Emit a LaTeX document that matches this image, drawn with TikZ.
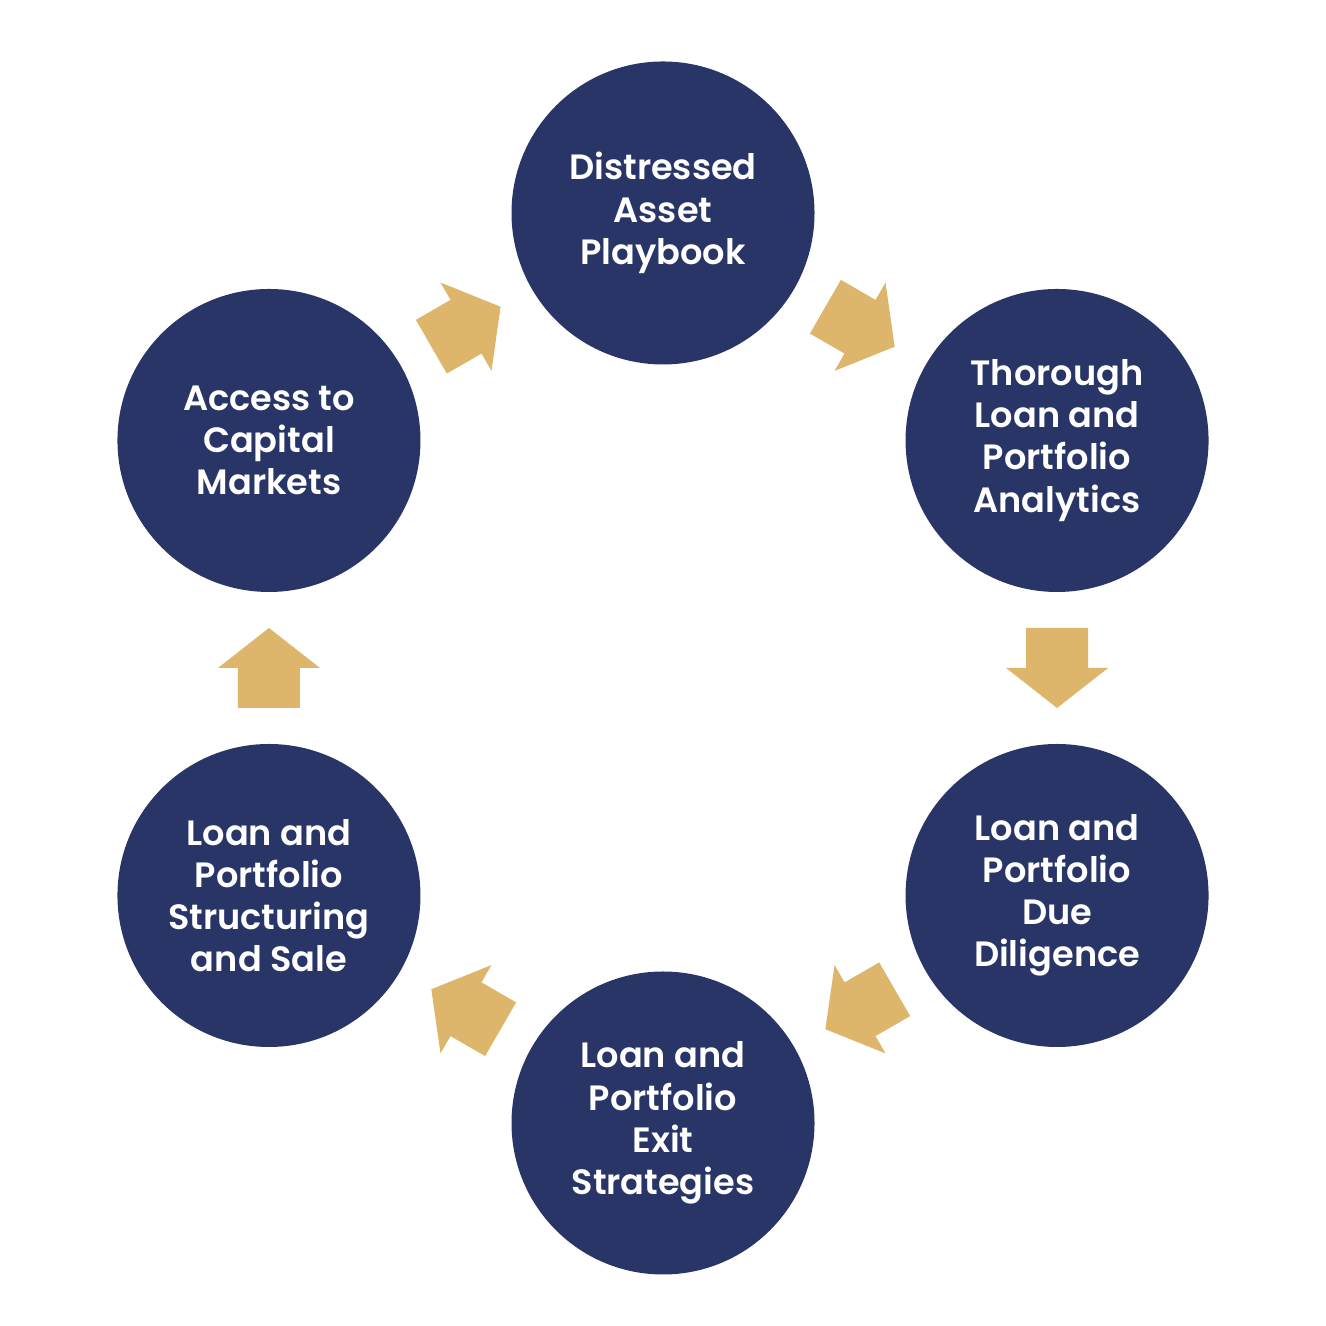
\documentclass[tikz,border=0pt]{standalone}
\usepackage{fontspec}
\newfontfamily\circfont{Poppins}[UprightFont=* SemiBold]
\usepackage{tikz}
\usetikzlibrary{calc}
\definecolor{cnavy}{HTML}{283566}
\definecolor{cgold}{HTML}{DDB66B}
\tikzset{
  stage/.style={circle, fill=cnavy, minimum size=3.03cm, inner sep=0pt,
    text=white, align=center, font=\circfont\fontsize{10}{12}\selectfont},
  blockarrow/.pic={
    \fill[cgold] (-0.4,-0.31) -- (0,-0.31) -- (0,-0.51) -- (0.4,0)
      -- (0,0.51) -- (0,0.31) -- (-0.4,0.31) -- cycle;}
}
\begin{document}
\begin{tikzpicture}
\useasboundingbox (0,0) rectangle (13.26,13.26);
\path (6.63,6.58) coordinate (hub);

\node[stage] (playbook)  at ($(hub)+(90:4.55)$)  {Distressed\\Asset\\Playbook};
\node[stage] (analytics) at ($(hub)+(30:4.55)$)  {Thorough\\Loan and\\Portfolio\\Analytics};
\node[stage] (diligence) at ($(hub)+(-30:4.55)$) {Loan and\\Portfolio\\Due\\Diligence};
\node[stage] (exit)      at ($(hub)+(-90:4.55)$) {Loan and\\Portfolio\\Exit\\Strategies};
\node[stage] (sale)      at ($(hub)+(210:4.55)$) {Loan and\\Portfolio\\Structuring\\and Sale};
\node[stage] (capital)   at ($(hub)+(150:4.55)$) {Access to\\Capital\\Markets};

% arrows between the stages
\pic[rotate=-30]  at ($(playbook)!0.5!(analytics)$) {blockarrow};
\pic[rotate=-90]  at ($(analytics)!0.5!(diligence)$) {blockarrow};
\pic[rotate=-150] at ($(diligence)!0.5!(exit)$) {blockarrow};
\pic[rotate=150]  at ($(exit)!0.5!(sale)$) {blockarrow};
\pic[rotate=90]   at ($(sale)!0.5!(capital)$) {blockarrow};
\pic[rotate=30]   at ($(capital)!0.5!(playbook)$) {blockarrow};
\end{tikzpicture}
\end{document}
